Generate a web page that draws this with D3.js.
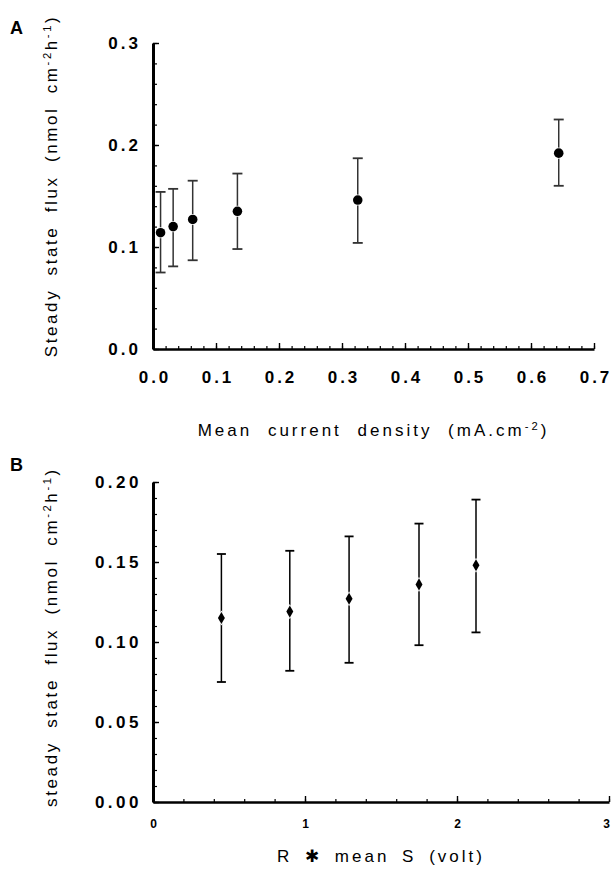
<!DOCTYPE html>
<html>
<head>
<meta charset="utf-8">
<script src="https://cdn.jsdelivr.net/npm/d3@7/dist/d3.min.js"></script>
<style>
  html, body { margin: 0; padding: 0; background: #fff; }
  svg { display: block; }
  text { font-family: "Liberation Sans", Arial, sans-serif; fill: #000; }
</style>
</head>
<body>
<svg id="fig" width="611" height="876"></svg>
<script>
// Panel A: steady state flux vs mean current density
const densityA = [0.012, 0.032, 0.063, 0.134, 0.325, 0.644];
const fluxA    = [0.114, 0.120, 0.127, 0.135, 0.146, 0.192];
const fluxA_lo = [0.075, 0.081, 0.087, 0.098, 0.104, 0.160];
const fluxA_hi = [0.154, 0.157, 0.165, 0.172, 0.187, 0.225];
const ticksAx  = [0, 0.1, 0.2, 0.3, 0.4, 0.5, 0.6, 0.7];
const ticksAy  = [0, 0.1, 0.2, 0.3];

// Panel B: steady state flux vs R * mean S
const voltB    = [0.45, 0.90, 1.29, 1.75, 2.125];
const fluxB    = [0.115, 0.119, 0.127, 0.136, 0.148];
const fluxB_lo = [0.075, 0.082, 0.087, 0.098, 0.106];
const fluxB_hi = [0.155, 0.157, 0.166, 0.174, 0.189];
const ticksBx  = [0, 1, 2, 3];
const ticksBy  = [0, 0.05, 0.10, 0.15, 0.20];

const svg = d3.select("#fig");

function superscriptLabel(sel, parts) {
  parts.forEach(p => {
    const t = sel.append("tspan").text(p.t);
    if (p.sup) t.attr("font-size", "0.66em").attr("dy", "-0.55em");
    if (p.down) t.attr("dy", "0.36em");
  });
}

function drawPanel(opt) {
  const g = svg.append("g");
  const x = d3.scaleLinear().domain(opt.xDomain).range(opt.xRange);
  const y = d3.scaleLinear().domain(opt.yDomain).range(opt.yRange);

  // minor ticks
  g.append("g")
    .attr("transform", `translate(0,${opt.yRange[0]})`)
    .call(d3.axisBottom(x).tickValues(opt.xMinor).tickSize(-3).tickFormat(""))
    .call(s => s.select(".domain").remove())
    .selectAll("line").attr("stroke-width", 1.2);
  g.append("g")
    .attr("transform", `translate(${opt.xRange[0]},0)`)
    .call(d3.axisLeft(y).tickValues(opt.yMinor).tickSize(-4).tickFormat(""))
    .call(s => s.select(".domain").remove())
    .selectAll("line").attr("stroke-width", 1.2);

  // major axes
  const xa = g.append("g")
    .attr("transform", `translate(0,${opt.yRange[0]})`)
    .call(d3.axisBottom(x).tickValues(opt.xTicks).tickSizeInner(-6).tickSizeOuter(0)
      .tickPadding(opt.xPad).tickFormat(opt.xFmt));
  xa.select(".domain").attr("stroke-width", 2.6);
  xa.selectAll(".tick line").attr("stroke-width", 1.4);
  xa.selectAll("text")
    .attr("font-size", opt.xFont).attr("font-weight", "bold")
    .attr("letter-spacing", opt.xLs).attr("dx", opt.xLs / 2)
    .attr("font-family", "Liberation Sans, Arial, sans-serif");
  if (opt.lastTickShift) {
    xa.selectAll(".tick").filter((d, i, n) => i === n.length - 1)
      .select("text").attr("dx", opt.lastTickShift);
  }

  const ya = g.append("g")
    .attr("transform", `translate(${opt.xRange[0]},0)`)
    .call(d3.axisLeft(y).tickValues(opt.yTicks).tickSizeInner(-6).tickSizeOuter(0)
      .tickPadding(opt.yPad).tickFormat(opt.yFmt));
  ya.select(".domain").attr("stroke-width", 3);
  ya.selectAll(".tick line").attr("stroke-width", 1.4);
  ya.selectAll("text")
    .attr("font-size", 17).attr("font-weight", "bold")
    .attr("letter-spacing", opt.yLs)
    .attr("font-family", "Liberation Sans, Arial, sans-serif");

  // error bars
  const cap = opt.cap;
  const bars = g.append("g").attr("stroke", opt.barColor).attr("stroke-width", 1.5);
  opt.xs.forEach((xv, i) => {
    const cx = x(xv);
    bars.append("line").attr("x1", cx).attr("x2", cx)
      .attr("y1", y(opt.lo[i])).attr("y2", y(opt.hi[i]));
    bars.append("line").attr("x1", cx - cap).attr("x2", cx + cap)
      .attr("y1", y(opt.hi[i])).attr("y2", y(opt.hi[i])).attr("stroke-width", 1.8);
    bars.append("line").attr("x1", cx - cap).attr("x2", cx + cap)
      .attr("y1", y(opt.lo[i])).attr("y2", y(opt.lo[i])).attr("stroke-width", 1.8);
  });

  // markers
  const sym = d3.symbol().type(opt.symbol).size(opt.symSize);
  g.append("g").selectAll("path")
    .data(opt.xs)
    .join("path")
    .attr("d", sym)
    .attr("transform", (d, i) => `translate(${x(d)},${y(opt.ys[i])})`)
    .attr("fill", "#000")
    .attr("stroke", "#fff")
    .attr("stroke-width", 1.5)
    .attr("paint-order", "stroke");

  // axis titles
  const xt = g.append("text")
    .attr("x", (opt.xRange[0] + opt.xRange[1]) / 2)
    .attr("y", opt.xTitleY)
    .attr("text-anchor", "middle")
    .attr("font-size", 17)
    .attr("letter-spacing", opt.xTitleLs)
    .attr("word-spacing", opt.xTitleWs);
  superscriptLabel(xt, opt.xTitle);

  const yt = g.append("text")
    .attr("transform", `translate(${opt.yTitleX},${opt.yTitleY}) rotate(-90)`)
    .attr("text-anchor", "middle")
    .attr("font-size", 17)
    .attr("letter-spacing", 2.6)
    .attr("word-spacing", 6);
  superscriptLabel(yt, opt.yTitle);

  svg.append("text")
    .attr("x", opt.tag[0]).attr("y", opt.tag[1])
    .attr("font-size", 18).attr("font-weight", "bold")
    .text(opt.tag[2]);
}

drawPanel({
  xDomain: [0, 0.7], xRange: [153, 594],
  yDomain: [0, 0.3], yRange: [349, 43],
  xTicks: ticksAx, yTicks: ticksAy,
  xMinor: d3.range(0, 0.7001, 0.02), yMinor: d3.range(0, 0.3001, 0.02),
  xFmt: d3.format(".1f"), yFmt: d3.format(".1f"),
  xPad: 22, yPad: 12, xFont: 17, xLs: 3, yLs: 3,
  xs: densityA, ys: fluxA, lo: fluxA_lo, hi: fluxA_hi,
  cap: 5, barColor: "#333",
  symbol: d3.symbolCircle, symSize: 72,
  xTitle: [{t: "Mean current density (mA.cm"}, {t: "-2", sup: true}, {t: ")", down: true}],
  xTitleY: 436, xTitleLs: 3, xTitleWs: 8,
  yTitle: [{t: "Steady state flux (nmol cm"}, {t: "-2", sup: true}, {t: "h", down: true},
           {t: "-1", sup: true}, {t: ")", down: true}],
  yTitleX: 57, yTitleY: 186,
  tag: [10, 34, "A"]
});

drawPanel({
  xDomain: [0, 3], xRange: [153, 609],
  yDomain: [0, 0.2], yRange: [802, 482],
  xTicks: ticksBx, yTicks: ticksBy,
  xMinor: d3.range(0, 3.001, 0.2), yMinor: d3.range(0, 0.2001, 0.01),
  xFmt: d3.format("d"), yFmt: d3.format(".2f"),
  xPad: 17, yPad: 11, xFont: 12, xLs: 0, yLs: 3.5, lastTickShift: -3,
  xs: voltB, ys: fluxB, lo: fluxB_lo, hi: fluxB_hi,
  cap: 4.5, barColor: "#000",
  symbol: d3.symbolDiamond, symSize: 42,
  xTitle: [{t: "R ✱ mean S (volt)"}],
  xTitleY: 862, xTitleLs: 3, xTitleWs: 5,
  yTitle: [{t: "steady state flux (nmol cm"}, {t: "-2", sup: true}, {t: "h", down: true},
           {t: "-1", sup: true}, {t: ")", down: true}],
  yTitleX: 57, yTitleY: 637,
  tag: [10, 471, "B"]
});
</script>
</body>
</html>
